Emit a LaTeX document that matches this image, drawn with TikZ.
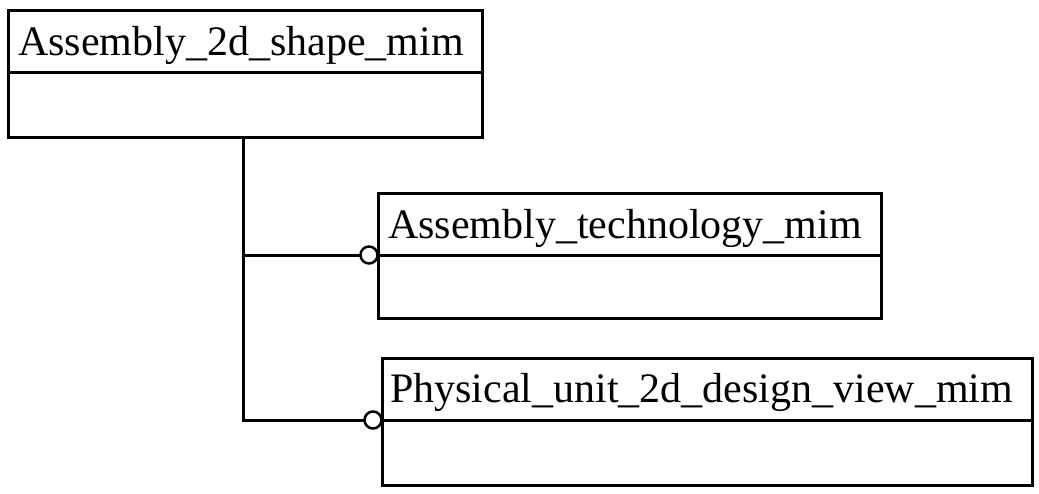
\documentclass[tikz,border=0pt]{standalone}
\usepackage{fontspec}
\setmainfont{Liberation Serif}
\begin{document}
\begin{tikzpicture}[x=1pt,y=-1pt,
  part/.style={draw, line width=3pt, anchor=north west, inner sep=0pt, outer sep=0pt, minimum height=#1},
  lbl/.style={anchor=base west, inner sep=0pt, font=\fontsize{42}{42}\selectfont},
  conn/.style={line width=3pt},
  ring/.style={circle, draw, fill=white, line width=2.5pt, minimum size=17pt, inner sep=0pt, outer sep=0pt}]
\useasboundingbox (0,0) rectangle (1039,493);
% box 1
\node[part=62, minimum width=474pt] (h1) at (8,10) {};
\node[part=65, minimum width=474pt] (d1) at (h1.south west) {};
\node[lbl] (t1) at ([xshift=10pt,yshift=-45pt]h1.north west) {Assembly\_2d\_shape\_mim};
% box 2
\node[part=62, minimum width=503pt] (h2) at (378,193) {};
\node[part=63, minimum width=503pt] (d2) at (h2.south west) {};
\node[lbl] (t2) at ([xshift=10pt,yshift=-45pt]h2.north west) {Assembly\_technology\_mim};
% box 3
\node[part=62, minimum width=650pt] (h3) at (382,358) {};
\node[part=65, minimum width=650pt] (d3) at (h3.south west) {};
\node[lbl] (t3) at ([xshift=8pt,yshift=-44pt]h3.north west) {Physical\_unit\_2d\_design\_view\_mim};
% connectors
\node[ring] (c2) at ([xshift=-9pt]h2.south west) {};
\node[ring] (c3) at ([xshift=-9pt]h3.south west) {};
\coordinate (top) at (243,137);
\coordinate (j2) at (top |- c2.west);
\coordinate (j3) at (top |- c3.west);
\draw[conn] (top) -- (j3) -- (c3.west);
\draw[conn] (j2) -- (c2.west);
\end{tikzpicture}
\end{document}
